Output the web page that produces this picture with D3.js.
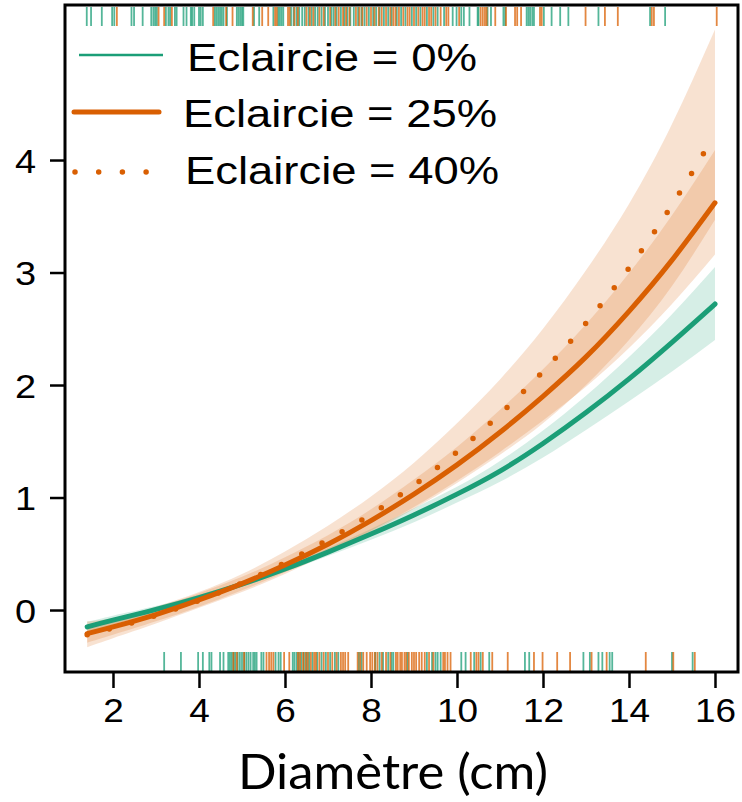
<!DOCTYPE html>
<html>
<head>
<meta charset="utf-8">
<script src="https://cdn.jsdelivr.net/npm/d3@7"></script>
<style>
  html, body { margin: 0; padding: 0; background: #fff; }
  svg { display: block; }
</style>
</head>
<body>
<svg id="chart" width="742" height="802"></svg>
<script>
// Predicted response against stem diameter for three thinning levels
const diam = [1.4, 2, 3, 4, 5, 6, 7, 8, 9, 10, 11, 12, 13, 14, 15, 16];

const fit0   = [-0.15, -0.09, 0.005, 0.11, 0.23, 0.365, 0.515, 0.675, 0.845, 1.03, 1.235, 1.48, 1.755, 2.055, 2.38, 2.72];
const lo0    = [-0.195, -0.13, -0.025, 0.085, 0.208, 0.34, 0.48, 0.625, 0.78, 0.955, 1.14, 1.355, 1.60, 1.855, 2.12, 2.40];
const hi0    = [-0.105, -0.05, 0.035, 0.135, 0.252, 0.39, 0.55, 0.72, 0.905, 1.095, 1.325, 1.595, 1.905, 2.25, 2.63, 3.05];

const fit25  = [-0.21, -0.15, -0.04, 0.09, 0.235, 0.40, 0.585, 0.795, 1.03, 1.29, 1.58, 1.90, 2.25, 2.655, 3.11, 3.62];
const lo25   = [-0.29, -0.22, -0.10, 0.03, 0.175, 0.335, 0.51, 0.705, 0.915, 1.15, 1.405, 1.685, 1.985, 2.33, 2.72, 3.16];
const hi25   = [-0.13, -0.08, 0.02, 0.15, 0.295, 0.47, 0.665, 0.895, 1.16, 1.45, 1.78, 2.14, 2.54, 2.995, 3.51, 4.09];

const fit40  = [-0.22, -0.16, -0.05, 0.085, 0.24, 0.42, 0.625, 0.85, 1.11, 1.405, 1.74, 2.12, 2.55, 3.04, 3.60, 4.23];
const lo40   = [-0.33, -0.25, -0.12, 0.02, 0.16, 0.32, 0.50, 0.69, 0.90, 1.13, 1.38, 1.66, 2.00, 2.40, 2.88, 3.47];
const hi40   = [-0.10, -0.07, 0.03, 0.16, 0.32, 0.52, 0.75, 1.01, 1.31, 1.66, 2.05, 2.50, 3.02, 3.61, 4.32, 5.16];

// Observed diameters (rug marks), top and bottom, by thinning group
const rugTopGreen = [1.39, 1.49, 1.74, 1.98, 2.03, 2.43, 2.49, 2.69, 2.89, 2.94, 2.98, 3.02, 3.23, 3.29, 3.33, 3.44, 3.48,
  3.64, 3.71, 3.81, 3.84, 3.89, 4.00, 4.04, 4.09, 4.37, 4.41, 4.45, 4.49, 4.53, 4.57, 4.65, 4.88, 4.92, 4.96, 5.00, 5.03,
  5.28, 5.40, 5.73, 5.84, 5.88, 5.92, 5.96, 6.14, 6.20, 6.27, 6.33, 6.40, 6.46, 6.55, 6.62, 6.70, 6.76, 6.85, 6.93, 7.00,
  7.08, 7.13, 7.20, 7.30, 7.38, 7.45, 7.52, 7.60, 7.70, 7.78, 7.85, 7.95, 8.05, 8.12, 8.20, 8.30, 8.40, 8.48, 8.60, 8.70,
  8.80, 8.95, 9.05, 9.15, 9.30, 9.45, 9.55, 9.70, 9.90, 9.99, 10.10, 10.16, 10.29, 10.48, 10.50, 10.71, 10.79, 11.08,
  11.12, 11.62, 11.66, 11.70, 11.75, 11.79, 12.02, 12.20, 12.40, 12.59, 13.29, 14.49, 14.84];
const rugTopOrange = [2.09, 3.06, 3.19, 3.37, 4.33, 4.63, 4.78, 5.25, 5.47, 5.61, 5.77, 5.81, 6.07, 6.11, 6.22, 6.30,
  6.50, 6.58, 6.66, 6.80, 6.90, 7.05, 7.17, 7.25, 7.35, 7.42, 7.50, 7.65, 7.73, 7.80, 7.90, 8.00, 8.08, 8.18, 8.25, 8.35,
  8.45, 8.52, 8.57, 8.65, 8.75, 8.85, 8.90, 9.00, 9.10, 9.20, 9.25, 9.35, 9.40, 9.50, 9.62, 9.75, 9.80, 10.05, 10.55,
  10.60, 10.65, 10.69, 10.89, 11.14, 11.35, 11.40, 11.49, 11.93, 11.97, 12.99, 13.44, 13.74, 14.53, 14.58, 16.04];
const rugBotGreen = [3.19, 3.58, 3.98, 4.09, 4.24, 4.29, 4.49, 4.57, 4.68, 4.72, 4.76, 4.80, 4.84, 4.90, 4.95, 5.00,
  5.05, 5.10, 5.15, 5.20, 5.26, 5.30, 5.34, 5.45, 5.50, 5.78, 5.85, 5.90, 6.18, 6.22, 6.27, 6.32, 6.38, 6.44, 6.50, 6.56,
  6.64, 6.75, 6.85, 6.95, 7.05, 7.16, 7.24, 7.72, 7.78, 8.10, 8.20, 8.28, 8.40, 8.48, 8.52, 8.85, 9.30, 9.42, 9.50, 9.55,
  9.62, 10.10, 10.20, 10.40, 10.55, 10.75, 11.58, 11.68, 12.94, 13.09, 13.29, 13.38, 13.55, 13.61, 15.00, 15.48];
const rugBotOrange = [4.80, 4.88, 5.05, 5.57, 5.63, 5.68, 5.73, 5.98, 6.10, 6.30, 6.35, 6.42, 6.48, 6.53, 6.60, 6.68,
  6.72, 6.80, 6.90, 7.00, 7.10, 7.20, 7.30, 7.35, 7.40, 7.47, 7.69, 7.75, 7.82, 7.90, 7.98, 8.03, 8.09, 8.15, 8.25, 8.35,
  8.45, 8.58, 8.62, 8.68, 8.72, 8.78, 8.82, 8.88, 8.95, 9.00, 9.05, 9.12, 9.18, 9.25, 9.35, 9.45, 9.68, 9.72, 9.78, 9.85,
  10.32, 10.45, 10.50, 10.60, 10.82, 11.18, 11.79, 11.99, 12.33, 12.63, 13.13, 13.48, 14.39, 15.03, 15.53];

const xTicks = [2, 4, 6, 8, 10, 12, 14, 16];
const yTicks = [0, 1, 2, 3, 4];
const legendLabels = ["Eclaircie = 0%", "Eclaircie = 25%", "Eclaircie = 40%"];
const xTitle = "Diamètre (cm)";

const GREEN = "#1b9e77", ORANGE = "#d95f02";

const svg = d3.select("#chart");
const pLeft = 65, pRight = 738, pTop = 5, pBottom = 672;

const x = d3.scaleLinear().domain([0.884, 16.535]).range([pLeft, pRight]);
const y = d3.scaleLinear().domain([-0.551, 5.378]).range([pBottom, pTop]);

const rows = (f, lo, hi) => diam.map((d, i) => ({ d, f: f[i], lo: lo ? lo[i] : null, hi: hi ? hi[i] : null }));

const area = d3.area().curve(d3.curveNatural)
  .x(p => x(p.d)).y0(p => y(p.lo)).y1(p => y(p.hi));
const line = d3.line().curve(d3.curveNatural)
  .x(p => x(p.d)).y(p => y(p.f));

const plot = svg.append("g");

// Confidence bands
plot.append("path").attr("d", area(rows(fit0, lo0, hi0)))
  .attr("fill", GREEN).attr("fill-opacity", 0.18);
plot.append("path").attr("d", area(rows(fit25, lo25, hi25)))
  .attr("fill", ORANGE).attr("fill-opacity", 0.18);
plot.append("path").attr("d", area(rows(fit40, lo40, hi40)))
  .attr("fill", ORANGE).attr("fill-opacity", 0.18);

// Fitted curves
plot.append("path").attr("d", line(rows(fit0)))
  .attr("fill", "none").attr("stroke", GREEN).attr("stroke-width", 5).attr("stroke-linecap", "round");
plot.append("path").attr("d", line(rows(fit25)))
  .attr("fill", "none").attr("stroke", ORANGE).attr("stroke-width", 5).attr("stroke-linecap", "round");
plot.append("path").attr("d", line(rows(fit40)))
  .attr("fill", "none").attr("stroke", ORANGE).attr("stroke-width", 5.5)
  .attr("stroke-linecap", "round").attr("stroke-dasharray", "0 23");

// Rug marks
function rug(vals, color, y0, y1) {
  plot.append("g").selectAll("line").data(vals).join("line")
    .attr("x1", d => x(d)).attr("x2", d => x(d))
    .attr("y1", y0).attr("y2", y1)
    .attr("stroke", color).attr("stroke-width", 1.8).attr("stroke-opacity", 0.75);
}
rug(rugTopGreen, GREEN, pTop + 2, pTop + 21);
rug(rugTopOrange, ORANGE, pTop + 2, pTop + 21);
rug(rugBotGreen, GREEN, pBottom - 20, pBottom);
rug(rugBotOrange, ORANGE, pBottom - 20, pBottom);

// Axes
const xAxis = svg.append("g").attr("transform", `translate(0,${pBottom})`)
  .call(d3.axisBottom(x).tickValues(xTicks).tickSize(16).tickFormat(""));
xAxis.select(".domain").remove();
xAxis.selectAll(".tick line").attr("stroke", "#000").attr("stroke-width", 2.5);
xAxis.selectAll(".tick").append("text")
  .attr("transform", "translate(0,50) scale(1.12,1)")
  .attr("text-anchor", "middle").attr("fill", "#000")
  .style("font-family", "'Liberation Sans', Arial, sans-serif").style("font-size", "33px")
  .text(d => d);

const yAxis = svg.append("g").attr("transform", `translate(${pLeft},0)`)
  .call(d3.axisLeft(y).tickValues(yTicks).tickSize(15).tickFormat(""));
yAxis.select(".domain").remove();
yAxis.selectAll(".tick line").attr("stroke", "#000").attr("stroke-width", 2.5);
yAxis.selectAll(".tick").append("text")
  .attr("transform", "translate(-29,12) scale(1.15,1)")
  .attr("text-anchor", "end").attr("fill", "#000")
  .style("font-family", "'Liberation Sans', Arial, sans-serif").style("font-size", "33px")
  .text(d => d);

// Frame
svg.append("rect").attr("x", pLeft).attr("y", pTop)
  .attr("width", pRight - pLeft).attr("height", pBottom - pTop)
  .attr("fill", "none").attr("stroke", "#000").attr("stroke-width", 3);

// Axis title
svg.append("text").attr("x", 393).attr("y", 789)
  .attr("text-anchor", "middle").attr("textLength", 310).attr("lengthAdjust", "spacingAndGlyphs")
  .style("font-family", "Lato, 'Open Sans', sans-serif").style("font-size", "48px")
  .text(xTitle);

// Legend
const legend = svg.append("g");
const legRows = [
  { y: 55, text: legendLabels[0], tx: 187, tl: 290, base: 71 },
  { y: 112, text: legendLabels[1], tx: 183, tl: 314, base: 127 },
  { y: 172, text: legendLabels[2], tx: 185, tl: 314, base: 184 }
];
legend.append("line").attr("x1", 79).attr("x2", 163).attr("y1", legRows[0].y).attr("y2", legRows[0].y)
  .attr("stroke", GREEN).attr("stroke-width", 2.5);
legend.append("line").attr("x1", 74).attr("x2", 159).attr("y1", legRows[1].y).attr("y2", legRows[1].y)
  .attr("stroke", ORANGE).attr("stroke-width", 5).attr("stroke-linecap", "round");
legend.append("line").attr("x1", 75).attr("x2", 160).attr("y1", legRows[2].y).attr("y2", legRows[2].y)
  .attr("stroke", ORANGE).attr("stroke-width", 5.5).attr("stroke-linecap", "round")
  .attr("stroke-dasharray", "0 23.7");
legend.selectAll("text").data(legRows).join("text")
  .attr("x", d => d.tx).attr("y", d => d.base)
  .attr("textLength", d => d.tl).attr("lengthAdjust", "spacingAndGlyphs")
  .style("font-family", "'Liberation Sans', Arial, sans-serif").style("font-size", "38px")
  .text(d => d.text);
</script>
</body>
</html>
